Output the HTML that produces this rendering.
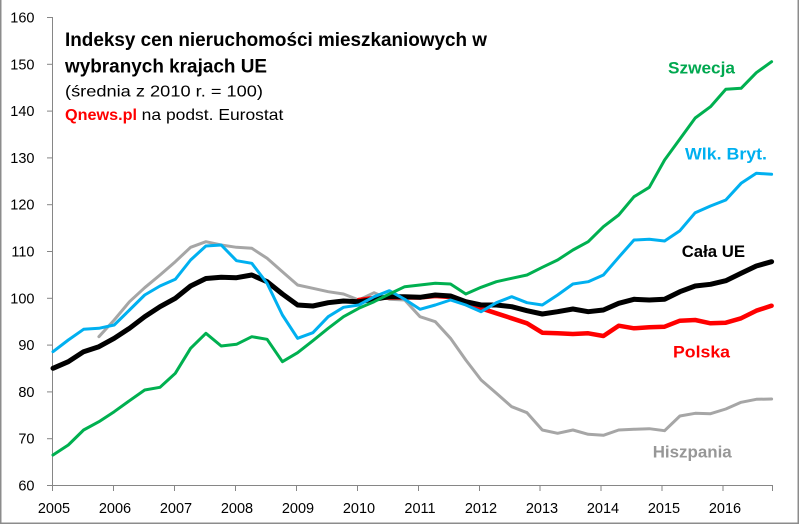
<!DOCTYPE html>
<html>
<head>
<meta charset="utf-8">
<style>
html,body{margin:0;padding:0;background:#fff;}
svg{display:block;}
text{font-family:"Liberation Sans","DejaVu Sans",sans-serif;}
</style>
</head>
<body>
<svg width="800" height="525" viewBox="0 0 800 525" xmlns="http://www.w3.org/2000/svg">
<rect x="0" y="0" width="800" height="525" fill="#fff"/>
<!-- frame -->
<path d="M0.75,-1 V523.25 H798.25 V-1" fill="none" stroke="#8c8c8c" stroke-width="1.5"/>

<!-- axes -->
<g stroke="#868686" stroke-width="1" fill="none">
  <line x1="52.5" y1="17" x2="52.5" y2="485.5"/>
  <line x1="52" y1="485.5" x2="773" y2="485.5"/>
  <!-- y ticks -->
  <line x1="47" y1="17.5" x2="52.5" y2="17.5"/>
  <line x1="47" y1="64.3" x2="52.5" y2="64.3"/>
  <line x1="47" y1="111.1" x2="52.5" y2="111.1"/>
  <line x1="47" y1="157.9" x2="52.5" y2="157.9"/>
  <line x1="47" y1="204.7" x2="52.5" y2="204.7"/>
  <line x1="47" y1="251.5" x2="52.5" y2="251.5"/>
  <line x1="47" y1="298.3" x2="52.5" y2="298.3"/>
  <line x1="47" y1="345.1" x2="52.5" y2="345.1"/>
  <line x1="47" y1="391.9" x2="52.5" y2="391.9"/>
  <line x1="47" y1="438.7" x2="52.5" y2="438.7"/>
  <line x1="47" y1="485.5" x2="52.5" y2="485.5"/>
  <!-- x ticks -->
  <line x1="52.5" y1="485.5" x2="52.5" y2="491"/>
  <line x1="113.5" y1="485.5" x2="113.5" y2="491"/>
  <line x1="174.5" y1="485.5" x2="174.5" y2="491"/>
  <line x1="235.5" y1="485.5" x2="235.5" y2="491"/>
  <line x1="296.5" y1="485.5" x2="296.5" y2="491"/>
  <line x1="357.5" y1="485.5" x2="357.5" y2="491"/>
  <line x1="418.5" y1="485.5" x2="418.5" y2="491"/>
  <line x1="479.5" y1="485.5" x2="479.5" y2="491"/>
  <line x1="540" y1="485.5" x2="540" y2="491"/>
  <line x1="601" y1="485.5" x2="601" y2="491"/>
  <line x1="662" y1="485.5" x2="662" y2="491"/>
  <line x1="723" y1="485.5" x2="723" y2="491"/>
  <line x1="772.5" y1="485.5" x2="772.5" y2="491"/>
</g>

<!-- y labels -->
<g font-size="14.5" fill="#000" text-anchor="end">
  <text x="34.5" y="22.5">160</text>
  <text x="34.5" y="69.3">150</text>
  <text x="34.5" y="116.1">140</text>
  <text x="34.5" y="162.9">130</text>
  <text x="34.5" y="209.7">120</text>
  <text x="34.5" y="256.5">110</text>
  <text x="34.5" y="303.3">100</text>
  <text x="34.5" y="350.1">90</text>
  <text x="34.5" y="396.9">80</text>
  <text x="34.5" y="443.7">70</text>
  <text x="34.5" y="490.5">60</text>
</g>
<!-- x labels -->
<g font-size="14.5" fill="#000" text-anchor="middle">
  <text x="54" y="513">2005</text>
  <text x="115" y="513">2006</text>
  <text x="176" y="513">2007</text>
  <text x="237" y="513">2008</text>
  <text x="298" y="513">2009</text>
  <text x="359" y="513">2010</text>
  <text x="420" y="513">2011</text>
  <text x="481" y="513">2012</text>
  <text x="542" y="513">2013</text>
  <text x="603" y="513">2014</text>
  <text x="664" y="513">2015</text>
  <text x="725" y="513">2016</text>
</g>

<!-- series -->
<g fill="none" stroke-linejoin="round" stroke-linecap="round">
<polyline stroke="#a6a6a6" stroke-width="3" points="98.9,336.7 114.2,320 129.5,301.7 144.7,287.7 160,275 175.3,261.7 190.6,247.3 205.9,241.7 221.2,245 236.5,247.3 251.8,248.3 267.1,258.3 282.4,271.7 297.6,285 312.9,288.3 328.2,291.7 343.5,294 358.8,300 374.1,292.7 389.4,299.3 404.7,300 420,316.7 435.3,321.7 450.5,338.3 465.8,360 481.1,380 496.4,393.3 511.7,406.7 527,412.7 542.3,430 557.6,433.3 572.9,430 588.2,434.3 603.4,435.3 618.7,430 634,429.3 649.3,428.7 664.6,430.7 679.9,416 695.2,413.3 710.5,413.7 725.8,409 741.1,402.3 756.3,399.3 771.6,399"/>
<polyline stroke="#ff0000" stroke-width="4.5" points="358.8,300 374.1,298 389.4,297.5 404.7,297.5 420,297.5 435.3,296 450.5,297 465.8,301.5 481.1,308.3 496.4,313.3 511.7,318.3 527,323.3 542.3,332.7 557.6,333.3 572.9,334 588.2,333.3 603.4,336 618.7,325.7 634,328.3 649.3,327.3 664.6,326.7 679.9,320.7 695.2,320 710.5,323.3 725.8,322.7 741.1,318.3 756.3,310.7 771.6,305.7"/>
<polyline stroke="#000000" stroke-width="5" points="53,368.3 68.3,361.7 83.6,351.7 98.9,346.7 114.2,338.3 129.5,328.3 144.7,316.7 160,306.7 175.3,298.3 190.6,286 205.9,278.5 221.2,277.3 236.5,277.7 251.8,275 267.1,281.7 282.4,294 297.6,305 312.9,306 328.2,302.7 343.5,301 358.8,301.7 374.1,299.3 389.4,296.7 404.7,296.7 420,297.3 435.3,295 450.5,296 465.8,301.7 481.1,305 496.4,305 511.7,306.7 527,310.7 542.3,314 557.6,311.7 572.9,309 588.2,311.7 603.4,310 618.7,303.3 634,299.3 649.3,300 664.6,299.3 679.9,291.7 695.2,286 710.5,284.3 725.8,280.7 741.1,273.3 756.3,266 771.6,261.7"/>
<polyline stroke="#00b0f0" stroke-width="3" points="53,351.7 68.3,340 83.6,329.3 98.9,328.3 114.2,325 129.5,310 144.7,295 160,286 175.3,279.3 190.6,260 205.9,246 221.2,245 236.5,260.7 251.8,263.3 267.1,283.3 282.4,315 297.6,338.3 312.9,332.7 328.2,316.7 343.5,307.3 358.8,305 374.1,296.7 389.4,290.7 404.7,299.3 420,309.3 435.3,305 450.5,300 465.8,305 481.1,311.7 496.4,302.7 511.7,296.7 527,302.7 542.3,305 557.6,295 572.9,284 588.2,281.7 603.4,275 618.7,257.3 634,240 649.3,239.3 664.6,241 679.9,230.7 695.2,212.7 710.5,206 725.8,200 741.1,183.3 756.3,173.3 771.6,174.3"/>
<polyline stroke="#00b050" stroke-width="3" points="53,455 68.3,445 83.6,430 98.9,421.7 114.2,411.7 129.5,400.7 144.7,390 160,387.3 175.3,373.3 190.6,348.3 205.9,333.3 221.2,346 236.5,344.3 251.8,336.7 267.1,339.3 282.4,361.7 297.6,352.7 312.9,340.7 328.2,328.3 343.5,316.7 358.8,308.3 374.1,301.7 389.4,294 404.7,286.7 420,285 435.3,283.3 450.5,284 465.8,294 481.1,287.3 496.4,281.7 511.7,278.3 527,275 542.3,267.3 557.6,260 572.9,250 588.2,241.7 603.4,226.7 618.7,215 634,196.7 649.3,187.3 664.6,160 679.9,139 695.2,118 710.5,106.7 725.8,89.3 741.1,88.3 756.3,72.7 771.6,61.7"/>
</g>

<!-- title -->
<text x="65" y="46" font-size="19" font-weight="bold" fill="#000" textLength="422" lengthAdjust="spacingAndGlyphs">Indeksy cen nieruchomości mieszkaniowych w</text>
<text x="65" y="72.5" font-size="19" font-weight="bold" fill="#000" textLength="202" lengthAdjust="spacingAndGlyphs">wybranych krajach UE</text>
<text x="65" y="96.5" font-size="16" fill="#000" textLength="198" lengthAdjust="spacingAndGlyphs">(średnia z 2010 r. = 100)</text>
<text x="65" y="120" font-size="16" font-weight="bold" fill="#ff0000" textLength="72" lengthAdjust="spacingAndGlyphs">Qnews.pl</text>
<text x="141.7" y="120" font-size="16" fill="#000" textLength="141.6" lengthAdjust="spacingAndGlyphs">na podst. Eurostat</text>

<!-- series labels -->
<g font-size="17" font-weight="bold">
  <text x="668" y="73.5" fill="#00a84f" textLength="67" lengthAdjust="spacingAndGlyphs">Szwecja</text>
  <text x="685" y="159.5" fill="#00b0f0" textLength="82" lengthAdjust="spacingAndGlyphs">Wlk. Bryt.</text>
  <text x="681.7" y="257" fill="#000" textLength="63.3" lengthAdjust="spacingAndGlyphs">Cała UE</text>
  <text x="673" y="357.5" fill="#ff0000" textLength="57" lengthAdjust="spacingAndGlyphs">Polska</text>
  <text x="652.7" y="457.5" fill="#979797" textLength="79" lengthAdjust="spacingAndGlyphs">Hiszpania</text>
</g>
</svg>
</body>
</html>
